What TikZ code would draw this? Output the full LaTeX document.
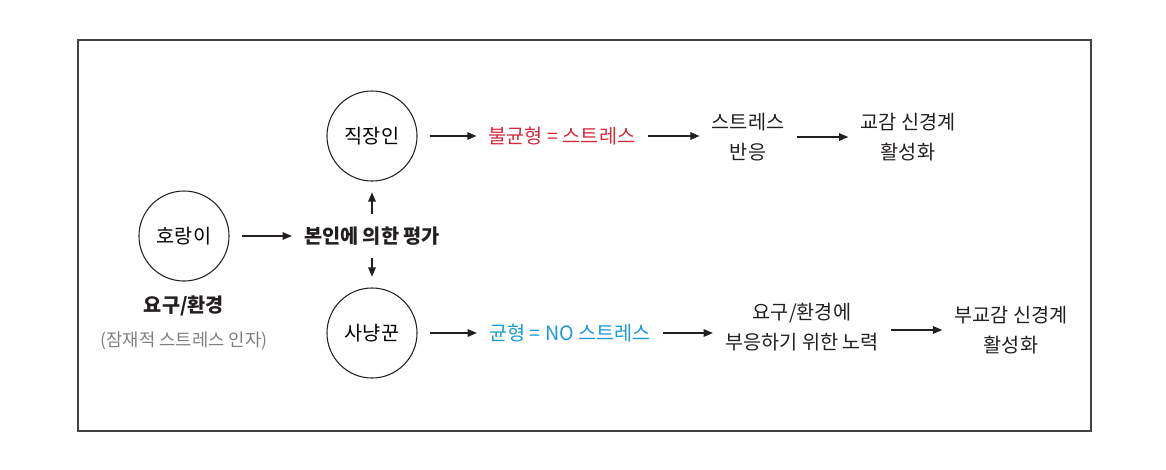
\documentclass[tikz,border=0pt]{standalone}
\usepackage{fontspec}
\setmainfont{Noto Sans CJK KR}
\usepackage{xcolor}
\usetikzlibrary{positioning,arrows.meta,calc}
\definecolor{ink}{HTML}{231F20}
\definecolor{stressred}{HTML}{D42A3C}
\definecolor{calmblue}{HTML}{1E9AD6}
\definecolor{notegray}{HTML}{808080}
\tikzset{
    agent/.style={circle, draw=ink, line width=0.75pt, minimum size=2.25cm, inner sep=0pt},
    label/.style={inner sep=0pt, align=center, text=ink},
    arr/.style={-{Triangle[length=2.3mm,width=1.9mm]}, draw=ink, line width=0.8pt, shorten <=0.3cm, shorten >=0.3cm}
}
\begin{document}
\begin{tikzpicture}[x=0.025cm, y=-0.025cm, font=\fontsize{14}{21}\selectfont]
        \useasboundingbox (0,0) rectangle (1166,469);
        % Moldura
        \draw[line width=0.9pt, draw=ink!85] (78,40) rectangle (1091,431);
        % Estressor e avaliação
        \node[agent] (tiger) at (184,236) {호랑이};
        \node[label] (eval) at (372,236) {\bfseries 본인에 의한 평가};
        \node[label] (demand) at (184,306) {\bfseries 요구/환경};
        \node[label, text=notegray, font=\fontsize{12.6}{20}\selectfont] (latent) at (184,341) {(잠재적 스트레스 인자)};
        \node[agent] (worker) at (372,136) {직장인};
        \node[agent] (hunter) at (372,333) {사냥꾼};
        % Linha de cima
        \node[label, text=stressred] (imbal) at (562,136) {불균형 = 스트레스};
        \node[label] (resp) at (748,137) {스트레스\\반응};
        \node[label] (symp) at (908,137) {교감 신경계\\활성화};
        % Linha de baixo
        \node[label, text=calmblue] (bal) at (570,333) {균형 = NO 스트레스};
        \node[label] (effort) at (802,327) {요구/환경에\\부응하기 위한 노력};
        \node[label] (para) at (1011,330) {부교감 신경계\\활성화};
        % Setas
        \draw[arr] (tiger) -- (eval);
        \draw[arr, shorten >=0.27cm] (eval) -- (worker);
        \draw[arr, shorten >=0.27cm] (eval) -- (hunter);
        \draw[arr] (worker) -- (imbal);
        \draw[arr] (imbal) -- (resp.west |- imbal);
        \draw[arr] (resp) -- (symp);
        \draw[arr] (hunter) -- (bal);
        \draw[arr] (bal) -- (effort.west |- bal);
        \draw[arr] (effort.east |- para) -- (para);
    \end{tikzpicture}
\end{document}
